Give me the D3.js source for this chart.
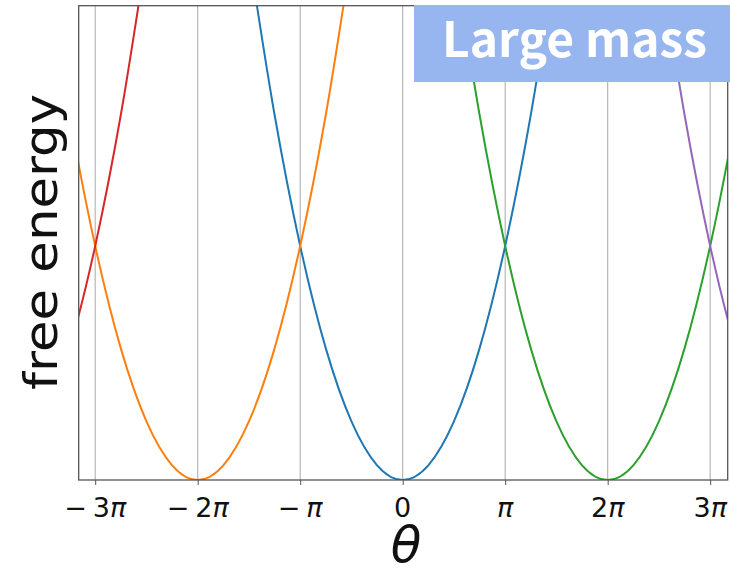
<!DOCTYPE html>
<html>
<head>
<meta charset="utf-8">
<script src="https://cdn.jsdelivr.net/npm/d3@7"></script>
<style>
  html, body { margin: 0; padding: 0; background: #fff; }
  svg { display: block; }
</style>
</head>
<body>
<svg id="chart" width="730" height="571"></svg>
<script>
// Minima positions (in units of pi) of each free-energy branch, in plotting order
const branchCenters = [0, -2, 2, -4, 4];
const branchColors = ["#1f77b4", "#ff7f0e", "#2ca02c", "#d62728", "#9467bd"];
// Free-energy profile, at offsets of k*pi/4 from a branch minimum
const profileOffsets = [-6, -5, -4, -3, -2, -1, 0, 1, 2, 3, 4, 5, 6];
const profileValues  = [22.2, 15.4, 9.87, 5.55, 2.47, 0.62, 0, 0.62, 2.47, 5.55, 9.87, 15.4, 22.2];
// Tick positions (units of pi) and labels
const tickValues = [-3, -2, -1, 0, 1, 2, 3];
const tickLabels = [["−", "3", "π"], ["−", "2", "π"], ["−", "", "π"], ["", "0", ""], ["", "", "π"], ["", "2", "π"], ["", "3", "π"]];
const xDomain = [-3.161, 3.171]; // units of pi
const yDomain = [0, 20];
const xLabel = "θ";
const yLabel = "free energy";
const badgeText = "Large mass";

(function () {
const svg = d3.select("#chart");
const pLeft = 78.7, pRight = 727.7, pTop = 5.7, pBottom = 480;
const DV = "'DejaVu Sans'";

const x = d3.scaleLinear().domain(xDomain).range([pLeft, pRight]);
const y = d3.scaleLinear().domain(yDomain).range([pBottom, pTop]);

svg.append("defs").append("clipPath").attr("id", "plotclip")
  .append("rect").attr("x", pLeft).attr("y", pTop).attr("width", pRight - pLeft).attr("height", pBottom - pTop);

// grid
svg.append("g").selectAll("line").data(tickValues).join("line")
  .attr("x1", d => x(d)).attr("x2", d => x(d))
  .attr("y1", pTop).attr("y2", pBottom)
  .attr("stroke", "#b0b0b0").attr("stroke-width", 1.1);

// curves
const line = d3.line()
  .x(d => x(d[0])).y(d => y(d[1]))
  .curve(d3.curveCardinal.tension(0));
const curves = svg.append("g").attr("clip-path", "url(#plotclip)");
branchCenters.forEach((c, i) => {
  const pts = profileOffsets.map((k, j) => [c + k / 4, profileValues[j]]);
  curves.append("path").attr("d", line(pts))
    .attr("fill", "none").attr("stroke", branchColors[i]).attr("stroke-width", 2);
});

// x axis ticks
const xAxis = d3.axisBottom(x).tickValues(tickValues).tickSize(5).tickFormat("");
const gx = svg.append("g").attr("transform", `translate(0,${pBottom})`).call(xAxis);
gx.select(".domain").remove();
gx.selectAll(".tick line").attr("stroke", "#555").attr("stroke-width", 1);

// tick labels
const tl = svg.append("g");
tickValues.forEach((v, i) => {
  const [m, n, p] = tickLabels[i];
  const t = tl.append("text").attr("x", x(v)).attr("y", 517).attr("text-anchor", "middle")
    .style("font-family", DV).style("font-size", "27px").attr("fill", "#111");
  if (m) t.append("tspan").text(m);
  if (n) t.append("tspan").attr("dx", m ? 6 : 0).text(n);
  if (p) t.append("tspan").style("font-style", "italic").attr("dx", (m && !n) ? 6 : 0).text(p);
});

// spines
svg.append("rect").attr("x", pLeft).attr("y", pTop).attr("width", pRight - pLeft).attr("height", pBottom - pTop)
  .attr("fill", "none").attr("stroke", "#555").attr("stroke-width", 1.3);

// axis labels
svg.append("text").attr("x", 406).attr("y", 562).attr("text-anchor", "middle")
  .style("font-family", DV).style("font-style", "italic").style("font-size", "50px").attr("fill", "#111")
  .text(xLabel);

svg.append("text").attr("transform", "translate(57,242) rotate(-90)")
  .attr("text-anchor", "middle")
  .style("font-family", DV).style("font-size", "47px").attr("fill", "#111")
  .attr("textLength", 296).attr("lengthAdjust", "spacingAndGlyphs")
  .text(yLabel);

// badge
svg.append("rect").attr("x", 414).attr("y", 5).attr("width", 316).attr("height", 77).attr("fill", "#97b6ef");
svg.append("text").attr("x", 574.5).attr("y", 57).attr("text-anchor", "middle")
  .style("font-family", "'Noto Sans CJK JP'").style("font-weight", 700).style("font-size", "49px").attr("fill", "#fff")
  .attr("textLength", 265).attr("lengthAdjust", "spacingAndGlyphs")
  .text(badgeText);
})();
</script>
</body>
</html>
